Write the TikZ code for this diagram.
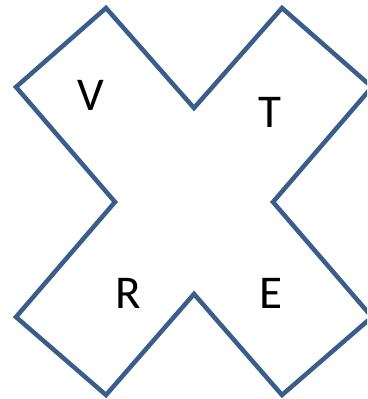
\documentclass[tikz,border=0pt]{standalone}
\usepackage{fontspec}
\setmainfont{Carlito}
\usepackage{tikz}
\usetikzlibrary{positioning}
\definecolor{crossblue}{HTML}{3A5E8C}
\tikzset{
  every picture/.append style={line join=miter},
  cross outline/.style={crossblue,line width=4.5pt},
  cross letter/.style={inner sep=0pt,font=\fontsize{47}{50}\selectfont}
}
\begin{document}
\begin{tikzpicture}[x=1pt,y=-1pt]
\useasboundingbox (0,0) rectangle (367,399);
\begin{scope}
\clip (0,0) rectangle (367,399);
\draw[cross outline] (106,8) -- (194,108) -- (282,8) -- (372,87) -- (273,202)
  -- (372,317) -- (282,395) -- (194,294) -- (106,395) -- (16,317)
  -- (115,202) -- (16,87) -- cycle;
\end{scope}
\node[cross letter] (v) at (91,95) {V};
\node[cross letter] (t) at (270,112) {T};
\node[cross letter] (r) at (128,293) {R};
\node[cross letter] (e) at (271,293) {E};
\end{tikzpicture}
\end{document}
